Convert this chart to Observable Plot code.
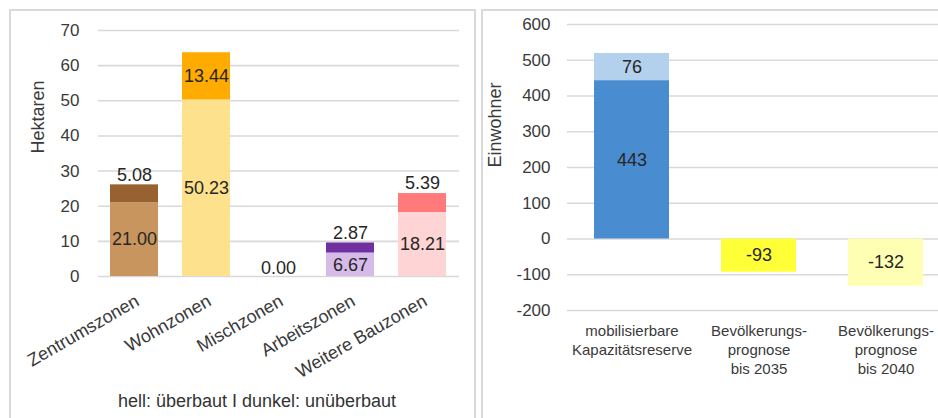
<!DOCTYPE html>
<html>
<head>
<meta charset="utf-8">
<script src="https://cdn.jsdelivr.net/npm/d3@7"></script>
<script src="https://cdn.jsdelivr.net/npm/@observablehq/plot@0.6"></script>
<style>
  html, body { margin: 0; padding: 0; background: #fff; overflow: hidden; }
  body { width: 938px; height: 418px; position: relative; font-family: "Liberation Sans", Arial, sans-serif; }
  .panel { position: absolute; box-sizing: border-box; }
  #leftBorder { left: 9px; top: 9px; width: 467px; height: 430px; border: 2px solid #d9d9d9; border-bottom: none; }
  #rightBorder { left: 481px; top: 9px; width: 500px; height: 430px; border: 2px solid #d9d9d9; border-bottom: none; border-right: none; }
  #left { position: absolute; left: 0; top: 0; width: 475px; }
  #right { position: absolute; left: 475px; top: 0; width: 475px; }
  #caption { position: absolute; left: 57px; width: 400px; top: 390px; line-height: 22px; text-align: center; font-size: 18px; color: #333; }
</style>
</head>
<body>
<div class="panel" id="leftBorder"></div>
<div class="panel" id="rightBorder"></div>
<div id="left"></div>
<div id="right"></div>
<div id="caption">hell: überbaut I dunkel: unüberbaut</div>
<script>
// ---- Left chart data (Hektaren) ----
const zones = ["Zentrumszonen", "Wohnzonen", "Mischzonen", "Arbeitszonen", "Weitere Bauzonen"];
const built = [21.00, 50.23, 0.00, 6.67, 18.21];      // hell: überbaut
const unbuilt = [5.08, 13.44, 0.00, 2.87, 5.39];      // dunkel: unüberbaut
const lightColors = ["#C8955F", "#FDE18D", "#E6E6E6", "#D6BAE8", "#FFD4D4"];
const darkColors = ["#976230", "#FFAB00", "#A0A0A0", "#7030A0", "#FF7A7A"];
const leftTicks = [0, 10, 20, 30, 40, 50, 60, 70];

// ---- Right chart data (Einwohner) ----
const groups = ["mobilisierbare\nKapazitätsreserve", "Bevölkerungs-\nprognose\nbis 2035", "Bevölkerungs-\nprognose\nbis 2040"];
const baseValues = [443, -93, -132];
const extraValues = [76, 0, 0];
const baseColors = ["#4A8CD0", "#FFFF38", "#FFFFB3"];
const extraColors = ["#B3D0EC", "#FFFF38", "#FFFFB3"];
const rightTicks = [-200, -100, 0, 100, 200, 300, 400, 500, 600];

const textColor = "#262626";
const axisColor = "#3a3a3a";
const gridColor = "#d9d9d9";

// Left table
const leftRows = zones.map((z, i) => ({
  zone: z, built: built[i], unbuilt: unbuilt[i], total: built[i] + unbuilt[i],
  light: lightColors[i], dark: darkColors[i]
}));
const builtLabels = leftRows.map(d => ({zone: d.zone, y: Math.max(d.built / 2, 2.3), text: d.built.toFixed(2)}));
const unbuiltInside = leftRows.filter(d => d.unbuilt > 8).map(d => ({zone: d.zone, y: d.built + d.unbuilt / 2, text: d.unbuilt.toFixed(2)}));
const unbuiltAbove = leftRows.filter(d => d.unbuilt > 0 && d.unbuilt <= 8).map(d => ({zone: d.zone, y: d.total, text: d.unbuilt.toFixed(2)}));

const leftPlot = Plot.plot({
  width: 475, height: 418,
  marginLeft: 98, marginRight: 16, marginTop: 30, marginBottom: 142,
  style: {fontFamily: "Liberation Sans, Arial, sans-serif", color: axisColor, background: "transparent"},
  x: {domain: zones, paddingInner: 0.33, paddingOuter: 0.165, label: null},
  y: {domain: [0, 70], label: null},
  marks: [
    Plot.gridY(leftTicks, {stroke: gridColor, strokeOpacity: 1, strokeWidth: 1.6}),
    Plot.barY(leftRows, {x: "zone", y1: 0, y2: "built", fill: "light"}),
    Plot.barY(leftRows.filter(d => d.unbuilt > 0), {x: "zone", y1: "built", y2: "total", fill: "dark"}),
    Plot.axisY({ticks: leftTicks, tickSize: 0, tickPadding: 19, fontSize: 17, label: null, tickFormat: d => String(d)}),
    Plot.axisX({tickRotate: -30, tickSize: 0, tickPadding: 23, dx: 3, fontSize: 18, label: null}),
    Plot.text(builtLabels, {x: "zone", y: "y", text: "text", fontSize: 18, fill: textColor}),
    Plot.text(unbuiltInside, {x: "zone", y: "y", text: "text", fontSize: 18, fill: textColor}),
    Plot.text(unbuiltAbove, {x: "zone", y: "y", text: "text", fontSize: 18, fill: textColor, dy: -10}),
    Plot.text(["Hektaren"], {frameAnchor: "left", rotate: -90, dx: -60, fontSize: 18, fill: axisColor})
  ]
});
document.getElementById("left").appendChild(leftPlot);

// Right table
const rightBase = groups.map((g, i) => ({group: g, v: baseValues[i], fill: baseColors[i]}));
const rightExtra = groups.map((g, i) => ({group: g, v0: baseValues[i], v1: baseValues[i] + extraValues[i], v: extraValues[i], fill: extraColors[i]})).filter(d => d.v !== 0);
const rightPlot = Plot.plot({
  width: 475, height: 418,
  marginLeft: 92, marginRight: 0.5, marginTop: 24, marginBottom: 108,
  style: {fontFamily: "Liberation Sans, Arial, sans-serif", color: axisColor, background: "transparent"},
  x: {domain: groups, paddingInner: 0.41, paddingOuter: 0.205, label: null},
  y: {domain: [-200, 600], label: null},
  marks: [
    Plot.gridY(rightTicks, {stroke: gridColor, strokeOpacity: 1, strokeWidth: 1.6}),
    Plot.barY(rightBase, {x: "group", y1: 0, y2: "v", fill: "fill"}),
    Plot.barY(rightExtra, {x: "group", y1: "v0", y2: "v1", fill: "fill"}),
    Plot.axisY({ticks: rightTicks, tickSize: 0, tickPadding: 17, fontSize: 17, label: null, tickFormat: d => String(d)}),
    Plot.axisX({tickSize: 0, tickPadding: 12, fontSize: 15, lineHeight: 1.27, label: null}),
    Plot.text(rightBase, {x: "group", y: d => d.v / 2, text: d => String(d.v), fontSize: 18, fill: textColor}),
    Plot.text(rightExtra, {x: "group", y: d => (d.v0 + d.v1) / 2, text: d => String(d.v), fontSize: 18, fill: textColor}),
    Plot.text(["Einwohner"], {frameAnchor: "left", rotate: -90, dx: -72, fontSize: 18, fill: axisColor})
  ]
});
document.getElementById("right").appendChild(rightPlot);
</script>
</body>
</html>
